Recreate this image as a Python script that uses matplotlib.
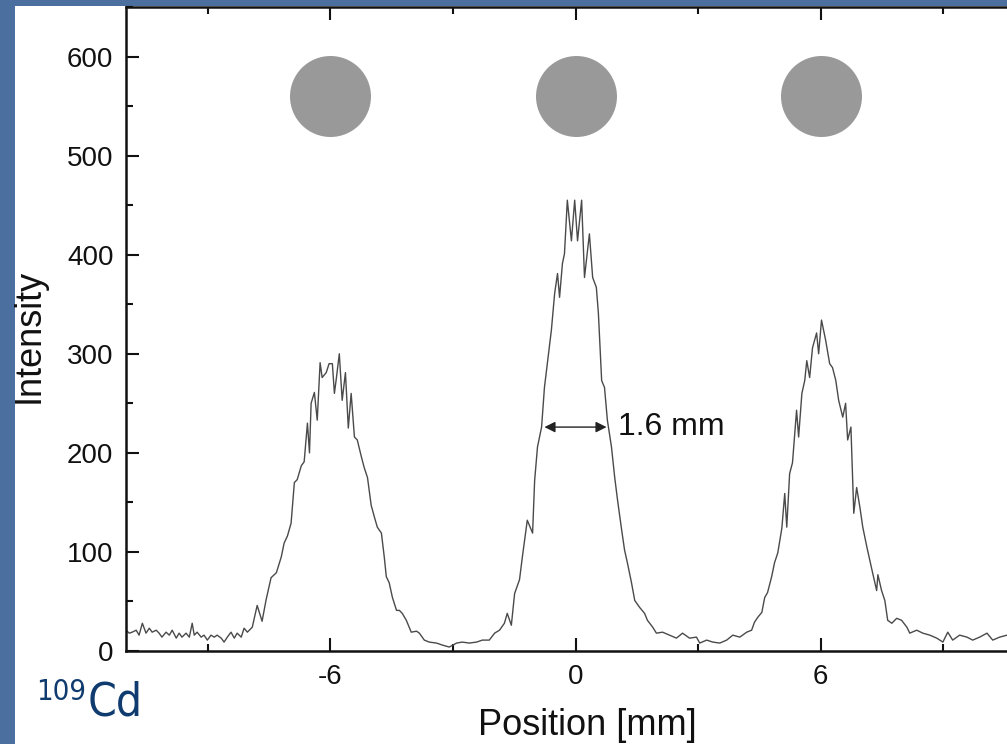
import matplotlib.pyplot as plt
from matplotlib.patches import Rectangle

# profilo (posizione in mm, intensita')
pos = [-11.00, -10.92, -10.85, -10.75, -10.68, -10.60, -10.51, -10.43, -10.36, -10.26,
       -10.19, -10.12, -10.02, -9.94, -9.87, -9.77, -9.70, -9.63, -9.53, -9.45,
       -9.38, -9.33, -9.26, -9.16, -9.09, -9.01, -8.92, -8.84, -8.77, -8.67,
       -8.60, -8.52, -8.43, -8.35, -8.28, -8.18, -8.11, -8.03, -7.91, -7.79,
       -7.67, -7.57, -7.45, -7.32, -7.20, -7.13, -7.05, -6.96, -6.88, -6.81,
       -6.71, -6.64, -6.56, -6.51, -6.47, -6.39, -6.32, -6.25, -6.20, -6.10,
       -6.03, -5.95, -5.90, -5.85, -5.78, -5.71, -5.63, -5.56, -5.49, -5.41,
       -5.34, -5.24, -5.17, -5.09, -5.00, -4.92, -4.85, -4.75, -4.68, -4.63,
       -4.56, -4.48, -4.38, -4.31, -4.24, -4.14, -4.02, -3.89, -3.82, -3.70,
       -3.58, -3.40, -3.26, -3.09, -2.91, -2.77, -2.60, -2.42, -2.28, -2.11,
       -1.98, -1.86, -1.74, -1.67, -1.57, -1.49, -1.37, -1.30, -1.18, -1.05,
       -1.00, -0.93, -0.83, -0.76, -0.69, -0.59, -0.51, -0.44, -0.39, -0.32,
       -0.27, -0.20, -0.10, -0.02, 0.05, 0.15, 0.22, 0.34, 0.42, 0.51,
       0.56, 0.64, 0.71, 0.78, 0.88, 0.96, 1.03, 1.13, 1.20, 1.27,
       1.37, 1.45, 1.57, 1.69, 1.76, 1.89, 1.98, 2.13, 2.30, 2.47,
       2.62, 2.79, 2.96, 3.04, 3.21, 3.36, 3.53, 3.70, 3.85, 4.02,
       4.19, 4.31, 4.38, 4.46, 4.56, 4.63, 4.70, 4.80, 4.87, 4.95,
       5.05, 5.12, 5.17, 5.24, 5.31, 5.41, 5.46, 5.54, 5.61, 5.66,
       5.73, 5.80, 5.90, 5.95, 6.02, 6.12, 6.22, 6.29, 6.37, 6.44,
       6.54, 6.61, 6.66, 6.74, 6.81, 6.88, 6.96, 7.03, 7.13, 7.20,
       7.27, 7.37, 7.40, 7.49, 7.57, 7.64, 7.74, 7.86, 7.98, 8.11,
       8.18, 8.35, 8.50, 8.67, 8.84, 8.99, 9.11, 9.23, 9.40, 9.58,
       9.72, 9.89, 10.07, 10.21, 10.38, 10.56, 10.75, 11.00]
intensita = [21, 18, 19, 21, 16, 28, 18, 23, 19, 21,
             18, 14, 19, 16, 21, 13, 18, 14, 18, 14,
             28, 16, 19, 14, 16, 11, 16, 14, 16, 13,
             9, 14, 19, 13, 18, 14, 23, 19, 24, 46,
             30, 52, 74, 79, 95, 109, 116, 129, 170, 173,
             187, 191, 230, 200, 250, 261, 233, 291, 276, 281,
             290, 290, 260, 276, 300, 253, 281, 225, 260, 216,
             213, 196, 185, 175, 147, 135, 125, 119, 95, 75,
             69, 54, 41, 41, 38, 31, 19, 20, 18, 11,
             9, 8, 6, 4, 8, 9, 8, 9, 11, 11,
             18, 21, 28, 38, 26, 58, 72, 95, 132, 119,
             172, 206, 226, 266, 290, 324, 361, 381, 357, 391,
             401, 455, 414, 455, 414, 455, 377, 421, 377, 367,
             341, 273, 266, 233, 206, 175, 152, 122, 102, 89,
             69, 51, 44, 38, 31, 24, 18, 19, 16, 13,
             18, 13, 14, 8, 11, 9, 8, 11, 16, 14,
             19, 21, 29, 34, 39, 54, 59, 75, 89, 99,
             124, 159, 125, 179, 190, 243, 216, 260, 273, 293,
             276, 306, 321, 300, 334, 314, 290, 286, 273, 253,
             236, 250, 213, 226, 139, 165, 145, 125, 105, 92,
             79, 61, 77, 61, 51, 31, 28, 33, 31, 24,
             18, 21, 18, 16, 13, 9, 19, 11, 16, 14,
             11, 14, 18, 11, 14, 16, 13, 15]

# cerchi delle sorgenti sopra i picchi
centri_x = [-6, 0, 6]
centri_y = [560, 560, 560]

# freccia della FWHM
fwhm_da = -0.76
fwhm_a = 0.76
fwhm_y = 226

plt.rcParams['font.family'] = ['Liberation Sans', 'DejaVu Sans']
plt.rcParams['axes.unicode_minus'] = False

fig = plt.figure(figsize=(10.07, 7.44), dpi=100)
fig.patch.set_facecolor('#4b6f9e')
# pannello bianco della slide
fig.patches.append(Rectangle((15 / 1007, 0), 1, 738 / 744, transform=fig.transFigure,
                             facecolor='white', edgecolor='none', zorder=-5))

ax = fig.add_axes([126 / 1007, 93 / 744, 899 / 1007, 644 / 744])
ax.set_zorder(2)
ax.set_facecolor('white')
ax.plot(pos, intensita, color='#4a4a4a', lw=1.0)
ax.scatter(centri_x, centri_y, s=3400, color='#999999', linewidths=0, zorder=3)

ax.annotate('', xy=(fwhm_da, fwhm_y), xytext=(fwhm_a, fwhm_y),
            arrowprops=dict(arrowstyle='<|-|>', color='#222222', lw=1.0, mutation_scale=16,
                            shrinkA=0, shrinkB=0))
ax.text(1.03, fwhm_y, '1.6 mm', fontsize=23, va='center', ha='left', color='#111111')

ax.set_xlim(-11, 11)
ax.set_ylim(0, 650)
ax.set_xticks([-6, 0, 6])
ax.set_xticks([-9, -3, 3, 9], minor=True)
ax.set_yticks(range(0, 601, 100))
ax.set_yticks(range(50, 651, 100), minor=True)
ax.tick_params(which='both', direction='in', top=True, right=True, width=1.5,
               colors='#111111', labelsize=20, pad=9)
ax.tick_params(which='major', length=9.5)
ax.tick_params(which='minor', length=5)
for s in ax.spines.values():
    s.set_linewidth(1.8)
    s.set_color('#111111')

ax.set_xlabel('Position [mm]', fontsize=26, color='#111111')
ax.xaxis.set_label_coords(0.513, -0.088)
ax.set_ylabel('Intensity', fontsize=26, color='#111111')
ax.yaxis.set_label_coords(-0.088, 0.49)

# etichetta dell'isotopo
fig.text(88 / 1007, 29 / 744, 'Cd', fontsize=33, color='#0f3b6f', va='baseline',
         ha='left', family='DejaVu Sans', fontstretch='condensed')
fig.text(86 / 1007, 44 / 744, '109', fontsize=21, color='#0f3b6f', va='baseline',
         ha='right', family='DejaVu Sans', fontstretch='condensed')

fig.savefig('out.png', dpi=100)
